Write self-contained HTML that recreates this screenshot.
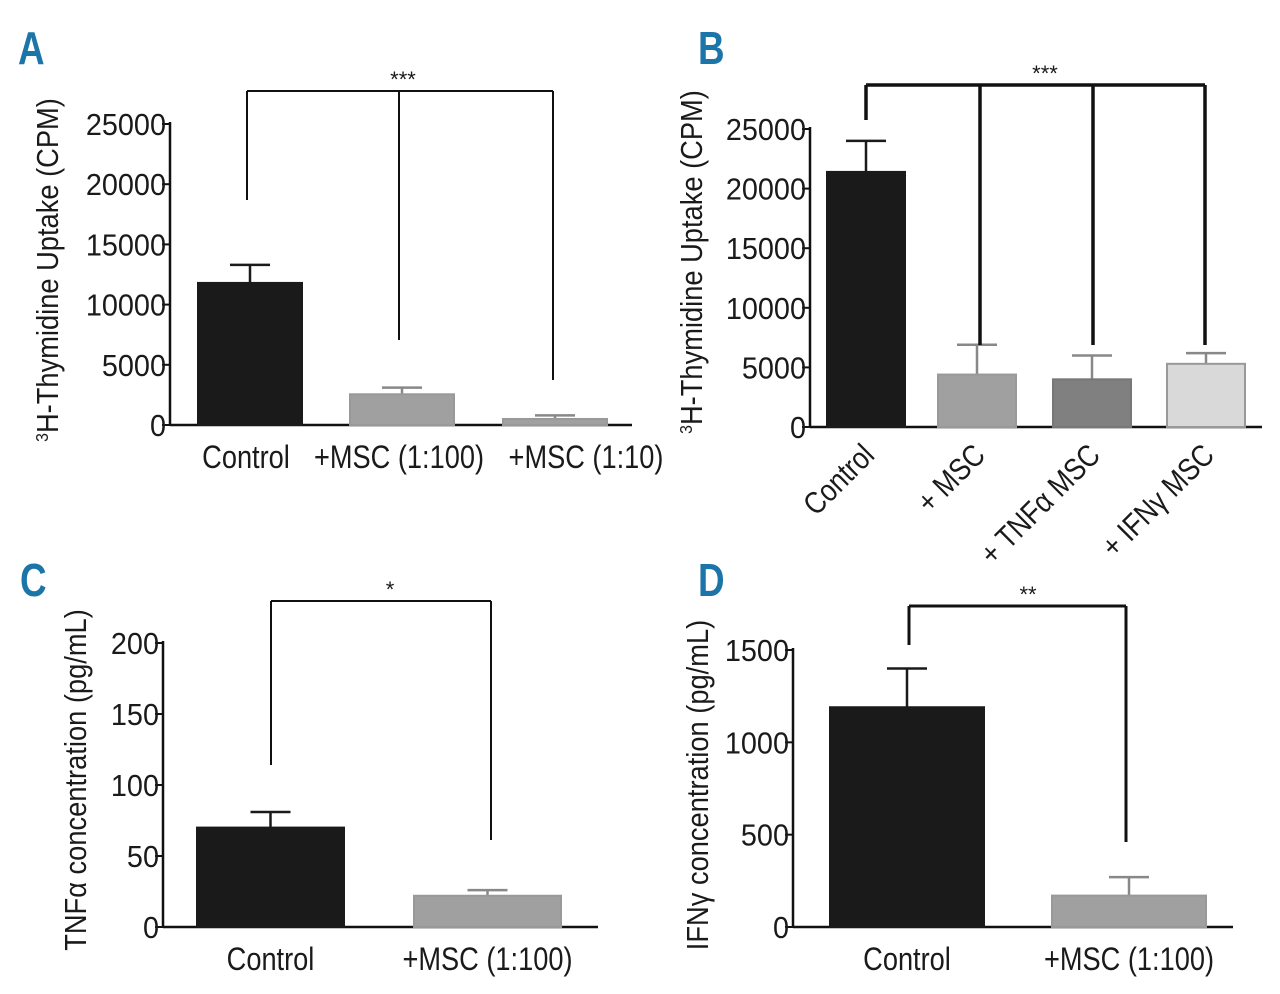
<!DOCTYPE html>
<html><head><meta charset="utf-8"><style>
body{margin:0;background:#fff}
svg text{font-family:"Liberation Sans",sans-serif;fill:#1a1a1a}
.lbl{font-weight:bold;fill:#1b75a8;font-size:46px}
</style></head><body>
<svg id="s" width="1280" height="989" xmlns="http://www.w3.org/2000/svg"></svg>
<script>
const aCats=["Control","+MSC (1:100)","+MSC (1:10)"];
const aVals=[11800,2550,500];
const aErr=[13300,3100,800];
const aTicks=[0,5000,10000,15000,20000,25000];
const bCats=["Control","+ MSC","+ TNFα MSC","+ IFNγ MSC"];
const bVals=[21400,4400,4000,5300];
const bErr=[24000,6900,6000,6200];
const bTicks=[0,5000,10000,15000,20000,25000];
const cCats=["Control","+MSC (1:100)"];
const cVals=[70,22];
const cErr=[81,26];
const cTicks=[0,50,100,150,200];
const dCats=["Control","+MSC (1:100)"];
const dVals=[1190,170];
const dErr=[1400,270];
const dTicks=[0,500,1000,1500];
const S=document.getElementById('s'),NS="http://www.w3.org/2000/svg";
function el(t,a,txt){const e=document.createElementNS(NS,t);for(const k in a)e.setAttribute(k,a[k]);if(txt!==undefined)e.textContent=txt;S.appendChild(e);return e;}
function panel(p){
  const y=v=>p.y0-(v/p.max)*(p.y0-p.ytop);
  const ax=el('line',{x1:p.ax,y1:p.ytop-2,x2:p.ax,y2:p.y0,stroke:'#111','stroke-width':2.5});
  
  const xa=el('line',{x1:p.ax,y1:p.y0,x2:p.axEnd,y2:p.y0,stroke:'#111','stroke-width':2.5});
  
  p.ticks.forEach(t=>{
    el('line',{x1:p.ax-8,y1:y(t),x2:p.ax,y2:y(t),stroke:'#111','stroke-width':2});
    const tx=el('text',{x:0,y:0,'text-anchor':'end','font-size':31,transform:`translate(${p.ax-4} ${y(t)+11}) scale(0.93 1)`},t);
    
  });
  p.vals.forEach((v,i)=>{
    const bx=p.bx[i],cx=bx+p.bw/2;
    const ec=p.col[i]==='#1a1a1a'?'#1a1a1a':'#888';
    el('line',{x1:cx,y1:y(p.err[i]),x2:cx,y2:y(v),stroke:ec,'stroke-width':2.5});
    el('line',{x1:cx-20,y1:y(p.err[i]),x2:cx+20,y2:y(p.err[i]),stroke:ec,'stroke-width':2.5});
    const r=el('rect',{x:bx,y:y(v),width:p.bw,height:p.y0-y(v),fill:p.col[i],stroke:p.stroke[i],'stroke-width':2});
    
    let t;
    if(p.rot){t=el('text',{x:0,y:0,'text-anchor':'end','font-size':31,transform:`translate(${cx+10} ${p.y0+30}) rotate(-45) scale(0.85 1)`},p.cats[i]);}
    else t=el('text',{x:0,y:0,'text-anchor':'middle','font-size':32,transform:`translate(${cx+(p.ldx?p.ldx[i]:0)} ${p.y0+43}) scale(0.85 1)`},p.cats[i]);
    
  });
  const br=p.br;
  el('line',{x1:br.xs[0],y1:br.top,x2:br.xs[br.xs.length-1],y2:br.top,stroke:'#111','stroke-width':br.w});
  br.xs.forEach((x,i)=>el('line',{x1:x,y1:br.top,x2:x,y2:br.bot[i],stroke:'#111','stroke-width':br.w}));
  const st=el('text',{x:br.sx,y:br.top-4,'text-anchor':'middle','font-size':22},br.s);
  
  const yt=el('text',{x:0,y:0,'text-anchor':'middle','font-size':31,transform:`translate(${p.tx} ${p.ty}) rotate(-90) scale(0.88 1)`});
  yt.innerHTML=p.title;
  const L=el('text',{x:0,y:0,class:'lbl',transform:`translate(${p.lx} ${p.ly}) scale(0.8 1)`},p.id);
  
}
const TH='<tspan font-size="18" dy="-10">3</tspan><tspan dy="10">H-Thymidine Uptake (CPM)</tspan>';
panel({id:'A',ax:170,axEnd:632,y0:425,ytop:124,max:25000,ticks:aTicks,cats:aCats,vals:aVals,err:aErr,bx:[198,350,503],bw:104,ldx:[-4,-3,31],
 col:['#1a1a1a','#a0a0a0','#a0a0a0'],stroke:['#1a1a1a','#999','#999'],
 br:{xs:[247,399,553],top:91,bot:[200,340,380],w:2,s:'***',sx:403},tx:58,ty:270,title:TH,lx:18,ly:64});
panel({id:'B',ax:810,axEnd:1262,y0:427,ytop:129,max:25000,ticks:bTicks,cats:bCats,vals:bVals,err:bErr,bx:[827,938,1053,1167],bw:78,rot:true,
 col:['#1a1a1a','#a0a0a0','#808080','#d9d9d9'],stroke:['#1a1a1a','#999','#777','#999'],
 br:{xs:[866,980,1093,1205],top:85,bot:[120,345,345,345],w:3.5,s:'***',sx:1045},tx:702,ty:262,title:TH,lx:698,ly:64});
panel({id:'C',ax:163,axEnd:598,y0:927,ytop:643,max:200,ticks:cTicks,cats:cCats,vals:cVals,err:cErr,bx:[197,414],bw:147,
 col:['#1a1a1a','#a0a0a0'],stroke:['#1a1a1a','#999'],
 br:{xs:[271,491],top:601,bot:[765,840],w:2,s:'*',sx:390},tx:86,ty:780,title:'TNFα concentration (pg/mL)',lx:20,ly:596});
panel({id:'D',ax:793,axEnd:1233,y0:927,ytop:650,max:1500,ticks:dTicks,cats:dCats,vals:dVals,err:dErr,bx:[830,1052],bw:154,
 col:['#1a1a1a','#a0a0a0'],stroke:['#1a1a1a','#999'],
 br:{xs:[909,1126],top:606,bot:[645,842],w:3,s:'**',sx:1028},tx:708,ty:785,title:'IFNγ concentration (pg/mL)',lx:698,ly:596});
</script>
</body></html>
